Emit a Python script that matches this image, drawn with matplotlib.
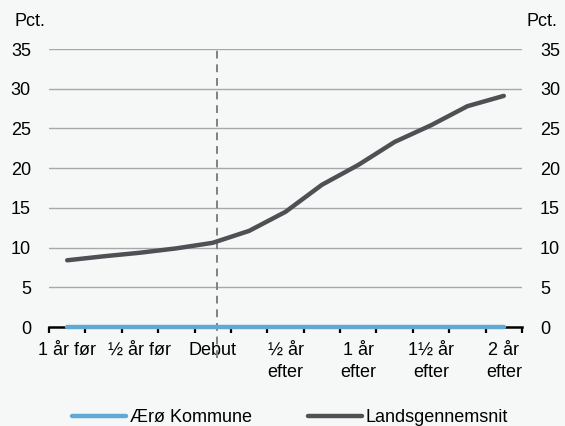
import matplotlib
matplotlib.use("Agg")
import matplotlib.pyplot as plt
from matplotlib.lines import Line2D

plt.rcParams['font.family'] = ['Liberation Sans', 'DejaVu Sans']

categories = ["1 år før", "", "½ år før", "", "Debut", "", "½ år\nefter", "",
              "1 år\nefter", "", "1½ år\nefter", "", "2 år\nefter"]
aeroe = [0, 0, 0, 0, 0, 0, 0, 0, 0, 0, 0, 0, 0]
lands = [8.4, 8.9, 9.35, 9.9, 10.6, 12.1, 14.5, 17.9, 20.4, 23.3, 25.4, 27.8, 29.1]
yticks = [0, 5, 10, 15, 20, 25, 30, 35]
debut_index = 4

W, H = 565, 426
bg = '#F6F8F8'
fig = plt.figure(figsize=(W/100, H/100), dpi=100, facecolor=bg)
ax = fig.add_axes([49/W, 1-327/H, (522-49)/W, (327-49)/H], facecolor=bg)

x = list(range(len(categories)))
ax.set_xlim(-0.5, len(categories)-0.5)
ax.set_ylim(0, 35)

for y in yticks[1:]:
    ax.axhline(y, color='#A8A8A8', lw=1.0, zorder=1)

ax.axvline(debut_index + 0.12, ymin=-0.11, ymax=1, color='#808080', lw=1.4,
           ls=(0, (4, 3)), zorder=2, clip_on=False)

ax.plot(x, aeroe, color='#62A8D5', lw=3.2, solid_capstyle='round', zorder=4, clip_on=False)
ax.plot(x, lands, color='#4F4F54', lw=3.2, solid_capstyle='round', zorder=3)

for s in ['top', 'left', 'right']:
    ax.spines[s].set_visible(False)
ax.spines['bottom'].set_color('black')
ax.spines['bottom'].set_linewidth(1.8)
ax.spines['bottom'].set_zorder(3)

ax.set_xticks(x)
ax.set_xticklabels(categories, fontsize=13, linespacing=1.35, va='top')
ax.tick_params(axis='x', which='major', length=0, pad=11)
ax.set_xticks([i - 0.5 for i in range(len(categories)+1)], minor=True)
ax.tick_params(axis='x', which='minor', length=4, width=1.6, direction='out', color='black')

ax.set_yticks(yticks)
ax.tick_params(axis='y', length=0, labelsize=13, left=True, right=False,
               labelleft=True, labelright=True)
for lbl in ax.get_yticklabels():
    pass
ax.yaxis.set_tick_params(which='major', pad=13)

fig.text(15/W, 1-21/H, "Pct.", fontsize=13, ha='left', va='center')
fig.text(527/W, 1-21/H, "Pct.", fontsize=13, ha='left', va='center')

handles = [Line2D([], [], color='#62A8D5', lw=3.2, solid_capstyle='round'),
           Line2D([], [], color='#4F4F54', lw=3.2, solid_capstyle='round')]
fig.legend(handles, ["Ærø Kommune", "Landsgennemsnit"], loc='center',
           bbox_to_anchor=(290/W, 1-418/H), ncol=2, frameon=False, fontsize=13,
           handlelength=3.0, handletextpad=0.2, columnspacing=3.1, borderaxespad=0)

fig.savefig("out.png", dpi=100, facecolor=bg)
